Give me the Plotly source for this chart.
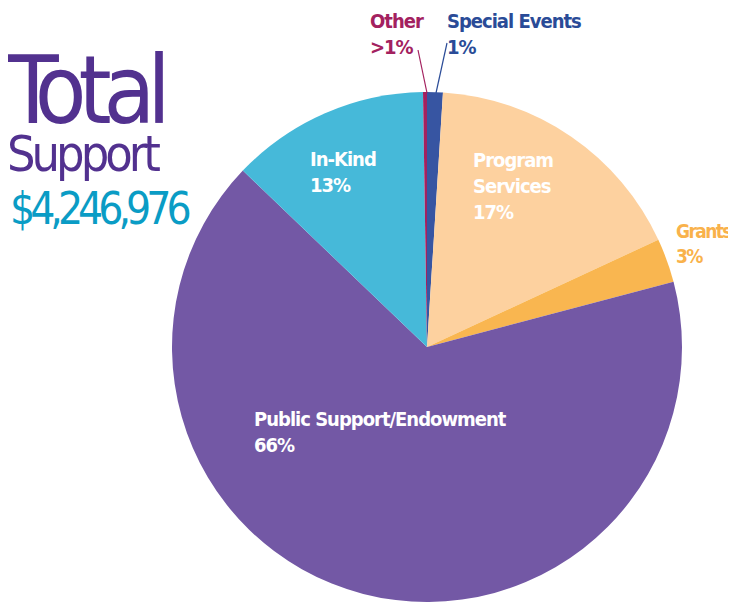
import plotly.graph_objects as go

# page body has an 8px default margin; figure sized so it fits the 736x605 window
OFF = 8
W, H = 736 - OFF, 605 - OFF

categories = ["Special Events", "Program Services", "Grants",
              "Public Support/Endowment", "In-Kind", "Other"]
shares = [1.0, 17.1, 2.8, 66.3, 12.6, 0.25]
pct_labels = ["1%", "17%", "3%", "66%", "13%", ">1%"]
colors = ["#3755A2", "#FDD19F", "#F9B650", "#7358A5", "#46B9D9", "#A3215F"]

title_word1 = "Total"
title_word2 = "Support"
total_amount = "$4,246,976"

FONT = "DejaVu Sans Condensed, DejaVu Sans, sans-serif"

# pie centre / radius in window pixels
cx, cy, r = 427 - OFF, 347 - OFF, 255

fig = go.Figure(go.Pie(
    labels=categories,
    values=shares,
    sort=False,
    direction="clockwise",
    rotation=0,
    marker=dict(colors=colors, line=dict(width=0)),
    textinfo="none",
    hoverinfo="label+percent",
    showlegend=False,
    domain=dict(x=[(cx - r) / W, (cx + r) / W],
                y=[(H - cy - r) / H, (H - cy + r) / H]),
))

def px(x):
    return (x - OFF) / W

def py(y):
    return 1 - (y - OFF) / H

annos = []

def sp(text, ls, size=None):
    style = "letter-spacing:%spx" % ls
    if size:
        style += ";font-size:%spx" % size
    return '<span style="%s">%s</span>' % (style, text)

def lab(lines, x, y, color, size=20, ls=-1):
    text = "<br>".join(sp(t, ls) for t in lines)
    annos.append(dict(text=text, x=px(x), y=py(y), xref="paper", yref="paper",
                      xanchor="left", yanchor="top", align="left", showarrow=False,
                      font=dict(family=FONT, size=size, color=color, weight="bold")))

lab(["Other", pct_labels[5]], 368, 7, colors[5])
lab(["Special Events", pct_labels[0]], 445, 7, "#2A4B97")
lab(["In-Kind", pct_labels[4]], 308, 145, "white")
lab(["Program", "Services", pct_labels[1]], 471, 146, "white")
lab(["Grants", pct_labels[2]], 674, 218, "#F9B24B", size=19, ls=-1.6)
lab(["Public Support/Endowment", pct_labels[3]], 252, 405, "white")

# "Total / Support" as one two-line text (line spacing from the 37px base size)
annos.append(dict(text=sp(title_word1, -8, 94) + "<br>" + sp(title_word2, -4, 50),
                  x=px(4), y=py(34), xref="paper", yref="paper",
                  xanchor="left", yanchor="top", align="left", showarrow=False,
                  font=dict(family=FONT, size=37, color="#52318F")))
annos.append(dict(text=sp(total_amount, -5), x=px(8), y=py(181), xref="paper", yref="paper",
                  xanchor="left", yanchor="top", showarrow=False,
                  font=dict(family=FONT, size=44, color="#0A9CC5")))

shapes = [
    dict(type="line", xref="paper", yref="paper",
         x0=px(418), y0=py(50), x1=px(427), y1=py(93),
         line=dict(color=colors[5], width=1.2)),
    dict(type="line", xref="paper", yref="paper",
         x0=px(447), y0=py(43), x1=px(436), y1=py(93),
         line=dict(color="#2A4B97", width=1.2)),
]

fig.update_layout(
    width=W, height=H,
    margin=dict(l=0, r=0, t=0, b=0),
    paper_bgcolor="white", plot_bgcolor="white",
    annotations=annos, shapes=shapes,
)

fig.write_html("out.html")
